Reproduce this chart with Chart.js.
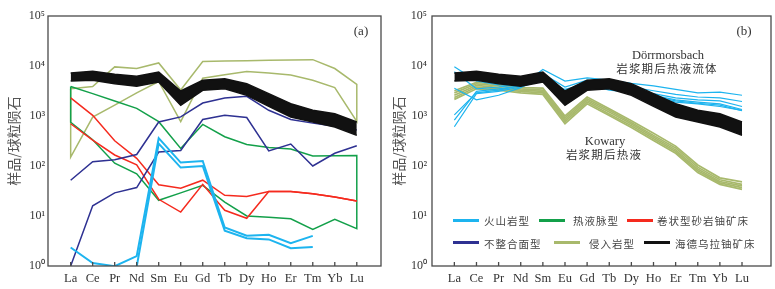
<!DOCTYPE html>
<html>
<head>
<meta charset="utf-8">
<script src="https://cdn.jsdelivr.net/npm/chart.js@4.4.1/dist/chart.umd.min.js"></script>
<style>
body { margin: 0; background: #fff; }
#wrap { position: relative; width: 775px; height: 289px; overflow: hidden; font-family: "Liberation Serif", serif; }
canvas { position: absolute; top: 0; }
#ca { left: 0; }
#cb { left: 390px; }
.tag { position: absolute; font-size: 13px; color: #333; transform: translate(-50%, -50%); white-space: nowrap; }
.note { position: absolute; color: #333; transform: translate(-50%, -50%); white-space: nowrap; text-align: center; }
.cjk { font-family: "Noto Sans CJK SC", sans-serif; }
.swatch { position: absolute; width: 26px; height: 3px; }
.lab { position: absolute; font-family: "Noto Sans CJK SC", sans-serif; font-size: 10.5px; letter-spacing: 1px; color: #444; transform: translateY(-50%); white-space: nowrap; }
</style>
</head>
<body>
<div id="wrap">
  <canvas id="ca" width="390" height="289"></canvas>
  <canvas id="cb" width="385" height="289"></canvas>
  <div class="tag" style="left:361px;top:31px">(a)</div>
  <div class="tag" style="left:744px;top:31px">(b)</div>
  <div class="note" style="left:668px;top:55px;font-size:12.5px">Dörrmorsbach</div>
  <div class="note cjk" style="left:667px;top:67.5px;font-size:11.5px;letter-spacing:1.2px">岩浆期后热液流体</div>
  <div class="note" style="left:605px;top:141px;font-size:12.5px">Kowary</div>
  <div class="note cjk" style="left:604px;top:153.5px;font-size:11.5px;letter-spacing:1.2px">岩浆期后热液</div>
</div>
<script>
const elements = ['La','Ce','Pr','Nd','Sm','Eu','Gd','Tb','Dy','Ho','Er','Tm','Yb','Lu']
const yTicks = [1, 10, 100, 1000, 10000, 100000]
const sup = ['⁰','¹','²','³','⁴','⁵']

// haideurala band, upper and lower edge (same in both panels)
const haiTop = [7240, 7820, 6810, 6210, 7590, 3160, 5170, 5580, 4430, 2800, 1770, 1300, 1110, 760]
const haiLow = [5010, 5170, 4430, 3920, 4790, 1630, 3260, 3520, 2590, 1560, 955, 760, 600, 410]

// panel (a)
const intrTop = [3500, 3900, 9600, 8900, 11500, 3300, 12300, 12600, 12800, 13000, 13200, 13400, 8900, 4300]
const intrLow = [150, 950, 1650, 2900, 4900, 770, 5700, 6700, 7800, 7250, 6600, 5200, 3700, 780]
const veinTop = [3900, 2800, 2000, 1420, 770, 225, 680, 385, 270, 235, 218, 158, 160, 163]
const veinLow = [750, 335, 114, 70, 20.6, 29, 41, 19, 10, 9.4, 8.8, 5.4, 8.6, 5.6]
const roll1 = [2300, 1030, 320, 142, 42, 36, 52, 26, 24.5, 31, 31, 28, 24, 20]
const roll2 = [700, 330, 166, 105, 21.6, 12, 43, 13, 9, 31, 31, 28, 24, 20]
const unc1 = [1, 16, 29, 37, 190, 205, 850, 1030, 930, 200, 275, 100, 180, 255]
const unc2 = [52, 122, 134, 170, 760, 960, 1820, 2300, 2470, 1300, 850, 720, 620, 525]
const volc1 = [2.35, 1.15, 0.99, 1.58, 360, 117, 126, 5.9, 4.05, 4.2, 2.85, 4.0, null, null]
const volc2 = [null, null, null, 0.97, 280, 93, 100, 5.1, 3.6, 3.4, 2.26, 2.4, null, null]

// panel (b) Dörrmorsbach fluids (light blue)
const dor1 = [9700, 5000, 4200, 4000, 8500, 5000, 5800, 5200, 4500, 4000, 3400, 2900, 3000, 2600]
const dor2 = [7700, 3500, 3800, 4300, 7000, 3800, 5200, 4300, 3800, 3200, 2700, 2400, 2300, 1950]
const dor3 = [3600, 2100, 2600, 3700, 6500, 3000, 4800, 3500, 3200, 2800, 2300, 2100, 2000, 1550]
const dor4 = [1050, 2900, 3300, 4100, 5800, 3200, 4600, 3900, 3500, 2600, 2100, 1900, 1750, 1350]
const dor5 = [830, 3100, 3500, 4000, 5500, 3400, 4400, 3600, 3300, 2500, 2000, 1800, 1650, 1280]
const dor6 = [610, 2800, 3100, 3800, 5200, 3000, 4300, 3300, 3000, 2400, 1900, 1750, 1550, 1300]
// panel (b) Kowary (olive)
const kow1 = [3200, 4700, 4300, 3700, 3600, 1000, 2400, 1400, 800, 450, 250, 105, 58, 48]
const kow2 = [2900, 4400, 4000, 3500, 3300, 920, 2200, 1300, 740, 410, 230, 95, 53, 43]
const kow3 = [2600, 4100, 3700, 3300, 3100, 850, 2050, 1200, 690, 380, 210, 87, 49, 40]
const kow4 = [2350, 3800, 3500, 3100, 2900, 780, 1900, 1100, 640, 350, 195, 80, 46, 37]
const kow5 = [2150, 3500, 3300, 2900, 2700, 700, 1750, 1020, 590, 325, 180, 74, 43, 34]

const legendNames = ['火山岩型','热液脉型','卷状型砂岩铀矿床','不整合面型','侵入岩型','海德乌拉铀矿床']

const blue = '#1db4ef', green = '#13a04a', red = '#f52a1e', navy = '#2e3192', olive = '#a8b96c', black = '#111'
const legendColors = [blue, green, red, navy, olive, black]
// swatch left, text left, row y
const legendSpots = [[453,484,220],[539,573,220],[627,657,220],[453,484,242.5],[554,589,242.5],[644,675,242.5]]

const wrap = document.getElementById('wrap')
legendNames.forEach(function(name, i){
  let [sx, tx, y] = legendSpots[i]
  let sw = document.createElement('div')
  sw.className = 'swatch'
  sw.style.left = sx + 'px'
  sw.style.top = (y - 1.5) + 'px'
  sw.style.background = legendColors[i]
  wrap.appendChild(sw)
  let lb = document.createElement('div')
  lb.className = 'lab'
  lb.style.left = tx + 'px'
  lb.style.top = y + 'px'
  lb.textContent = name
  wrap.appendChild(lb)
})

const pts = vals => vals.map((v, i) => ({x: i, y: v}))
const ring = (top, low) => pts(top).concat(pts(low).reverse(), [{x: 0, y: top[0]}])

function line(data, color, w){
  return {data: data, borderColor: color, borderWidth: w, fill: false, pointRadius: 0}
}
function band(){
  return [
    {data: pts(haiTop), borderColor: black, borderWidth: 1.5, fill: false, pointRadius: 0},
    {data: pts(haiLow), borderColor: black, borderWidth: 1.5, fill: '-1', backgroundColor: black, pointRadius: 0}
  ]
}

const frame = {
  id: 'frame',
  afterDraw(chart){
    const {ctx, chartArea: a, scales: {x}} = chart
    ctx.save()
    ctx.strokeStyle = '#4a4a4a'
    ctx.lineWidth = 1.3
    ctx.strokeRect(a.left, a.top, a.right - a.left, a.bottom - a.top)
    ctx.beginPath()
    elements.forEach(function(e, i){
      let px = x.getPixelForValue(i)
      ctx.moveTo(px, a.bottom)
      ctx.lineTo(px, a.bottom - 4)
    })
    ctx.stroke()
    ctx.restore()
  }
}

function makeChart(id, datasets, xmin, xmax, yWidth, padRight, labPad, titlePad){
  return new Chart(document.getElementById(id), {
    type: 'line',
    data: {datasets: datasets},
    options: {
      responsive: false,
      animation: false,
      layout: {padding: {top: 16, right: padRight, left: 0, bottom: 0}},
      plugins: {legend: {display: false}, tooltip: {enabled: false}},
      elements: {line: {tension: 0, borderCapStyle: 'butt', borderJoinStyle: 'miter'}, point: {radius: 0}},
      scales: {
        x: {
          type: 'linear', min: xmin, max: xmax,
          grid: {display: false, drawTicks: false}, border: {display: false},
          afterBuildTicks: s => { s.ticks = elements.map((e, i) => ({value: i})) },
          afterFit: s => { s.height = 23 },
          ticks: {callback: v => elements[v], padding: 5, color: '#333', autoSkip: false, maxRotation: 0,
                  font: {family: '"Liberation Serif"', size: 12.5}}
        },
        y: {
          type: 'logarithmic', min: 1, max: 100000,
          grid: {display: false, drawTicks: false}, border: {display: false},
          afterBuildTicks: s => { s.ticks = yTicks.map(v => ({value: v})) },
          afterFit: s => { s.width = yWidth },
          ticks: {callback: v => '10' + sup[Math.round(Math.log10(v))], padding: labPad, color: '#333',
                  font: {family: '"Liberation Serif"', size: 12}},
          title: {display: true, text: '样品/球粒陨石', color: '#555', padding: {top: titlePad, bottom: 0},
                  font: {family: '"Noto Sans CJK SC"', size: 14}}
        }
      }
    },
    plugins: [frame]
  })
}

const setA = band().concat([
  line(pts(volc1), blue, 2),
  line(pts(volc2), blue, 2),
  line(pts(unc1), navy, 1.5),
  line(pts(unc2), navy, 1.5),
  line(pts(roll1), red, 1.5),
  line(pts(roll2), red, 1.5),
  line(ring(veinTop, veinLow), green, 1.5),
  line(ring(intrTop, intrLow), olive, 1.5)
])

const setB = band().concat(
  [dor1, dor2, dor3, dor4, dor5, dor6].map(d => line(pts(d), blue, 1.2)),
  [kow1, kow2, kow3, kow4, kow5].map(d => line(pts(d), olive, 1.7))
)

makeChart('ca', setA, -1.03, 14.1, 48, 9, 3, 5)
makeChart('cb', setB, -1.01, 14.31, 42, 4, 5, 0)
</script>
</body>
</html>
